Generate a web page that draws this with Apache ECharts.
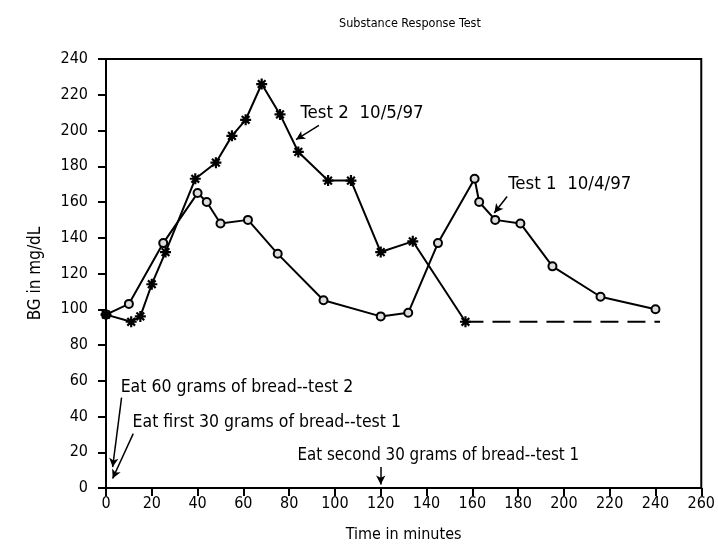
<!DOCTYPE html>
<html><head><meta charset="utf-8">
<script src="https://cdn.jsdelivr.net/npm/echarts@6/dist/echarts.min.js"></script>
<style>html,body{margin:0;padding:0;background:#fff}#c{width:718px;height:550px}</style>
</head><body><div id="c"></div>
<script>
var xTicks = [0,20,40,60,80,100,120,140,160,180,200,220,240,260];
var yTicks = [0,20,40,60,80,100,120,140,160,180,200,220,240];
var test1X = [0,10,25,40,44,50,62,75,95,120,132,145,161,163,170,181,195,216,240];
var test1Y = [97,103,137,165,160,148,150,131,105,96,98,137,173,160,150,148,124,107,100];
var test2X = [0,11,15,20,26,39,48,55,61,68,76,84,97,107,120,134,157];
var test2Y = [97,93,96,114,132,173,182,197,206,226,209,188,172,172,132,138,93];
var dashX = [157,242];
var dashY = [93,93];
var noteTexts = ['Test 2  10/5/97','Test 1  10/4/97','Eat 60 grams of bread--test 2','Eat first 30 grams of bread--test 1','Eat second 30 grams of bread--test 1'];
var noteX = [85,175.7,6.4,11.6,83.6];
var noteY = [209.7,170.2,56.2,36.4,18.3];
var noteSize = [18.5,18.5,17.5,17.5,16.8];
var arrows = [
  [[93,202.9],[83,194.9]],
  [[175.2,163.1],[169.6,153.8]],
  [[6.8,50.6],[2.9,11.7]],
  [[11.9,30.4],[2.9,5.3]],
  [[120,11.7],[120,1.9]]
];
var FONT = "'Liberation Sans Narrow','DejaVu Sans Condensed','Roboto Condensed',Arial,sans-serif";
function pairs(xs, ys){ return xs.map(function(x,i){return [x, ys[i]];}); }
var star = 'path://M-1,-5L1,-5L1,5L-1,5Z M-5,-1L5,-1L5,1L-5,1Z M-2.8,-4.2L4.2,2.8L2.8,4.2L-4.2,-2.8Z M-4.2,2.8L2.8,-4.2L4.2,-2.8L-2.8,4.2Z';
var chart = echarts.init(document.getElementById('c'));
chart.setOption({
  animation:false,
  backgroundColor:'#fff',
  title:{text:'Substance Response Test', left:334, top:12, textStyle:{fontFamily:FONT, fontSize:12.5, fontWeight:'normal', color:'#000'}},
  grid:{left:106, right:14, top:59, bottom:62, show:true, borderColor:'#000', borderWidth:2, backgroundColor:'transparent'},
  xAxis:{type:'value', min:0, max:260, interval:20, splitLine:{show:false},
    name:'Time in minutes', nameLocation:'middle', nameGap:39,
    nameTextStyle:{fontFamily:FONT, fontSize:16, color:'#000'},
    axisLine:{lineStyle:{color:'#000', width:2}},
    axisTick:{length:8, lineStyle:{color:'#000', width:2}},
    axisLabel:{fontFamily:FONT, fontSize:16, color:'#000', margin:8}},
  yAxis:{type:'value', min:0, max:240, interval:20, splitLine:{show:false},
    name:'BG in mg/dL', nameLocation:'middle', nameGap:62,
    nameTextStyle:{fontFamily:FONT, fontSize:17, color:'#000'},
    axisLine:{lineStyle:{color:'#000', width:2}},
    axisTick:{length:8, lineStyle:{color:'#000', width:2}},
    axisLabel:{fontFamily:FONT, fontSize:16, color:'#000', margin:18}},
  series:[
    {type:'line', name:'Test 1', data:pairs(test1X,test1Y), symbol:'circle', symbolSize:8,
      lineStyle:{color:'#000', width:2}, itemStyle:{color:'#ddd', borderColor:'#000', borderWidth:2}, z:3},
    {type:'line', name:'Test 2', data:pairs(test2X,test2Y), symbol:star, symbolSize:11,
      lineStyle:{color:'#000', width:2}, itemStyle:{color:'#000'}, z:3,
      markLine:{silent:true, symbol:['none','arrow'], symbolSize:[7,9], label:{show:false},
        lineStyle:{color:'#000', width:1.5, type:'solid'},
        data: arrows.map(function(a){return [{coord:a[0]},{coord:a[1]}];})}},
    {type:'line', name:'Test 2 dashed', data:pairs(dashX,dashY), symbol:'none',
      lineStyle:{color:'#000', width:2, type:[18,9]}, z:2}
  ]
});
chart.setOption({graphic: noteTexts.map(function(t, i){
  var p = chart.convertToPixel({gridIndex:0}, [noteX[i], noteY[i]]);
  return {type:'text', x:p[0], y:p[1], style:{text:t, fill:'#000', font:noteSize[i]+'px '+FONT, textVerticalAlign:'middle', textAlign:'left'}};
})});
</script></body></html>
